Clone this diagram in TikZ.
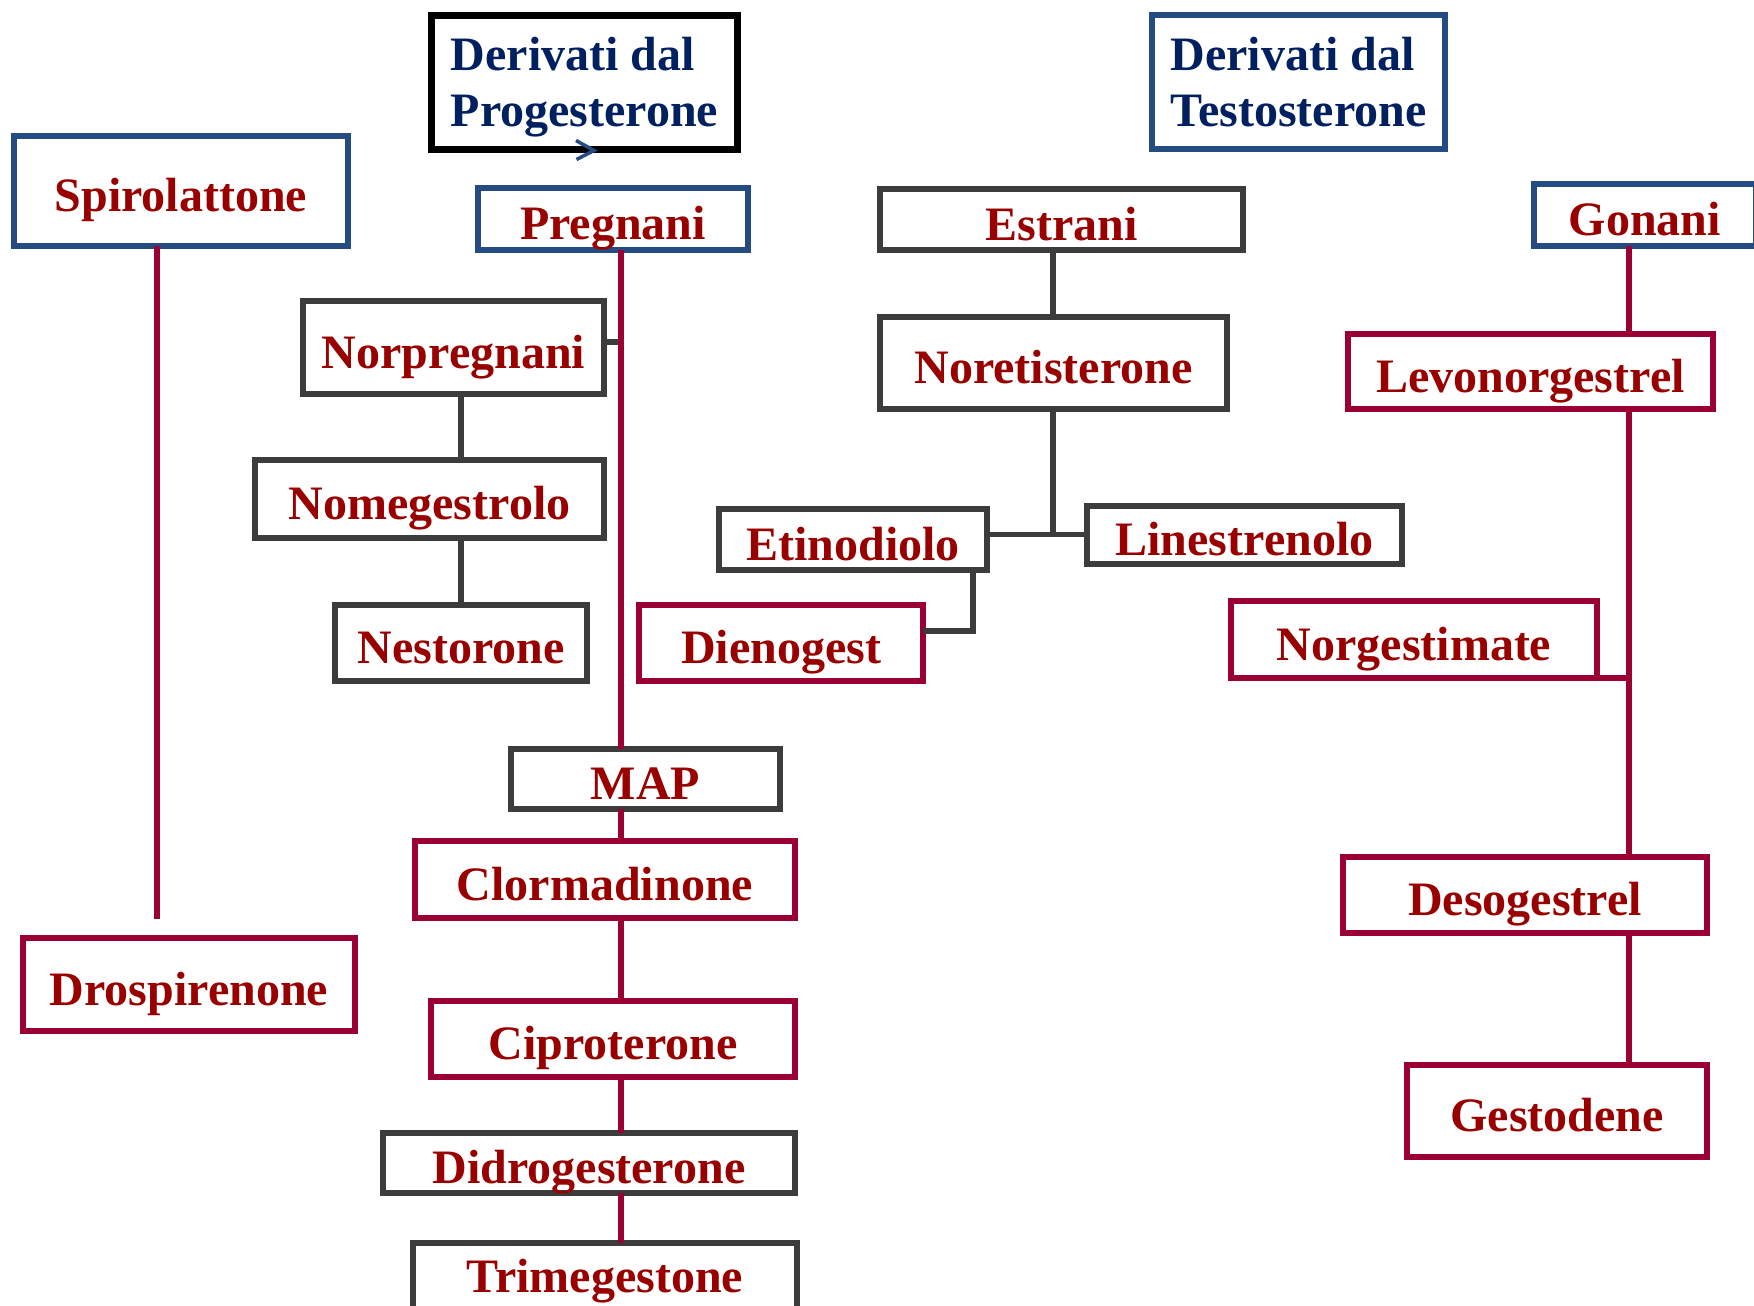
\documentclass[tikz,border=0pt]{standalone}
\usepackage{fontspec}
\setmainfont{Liberation Serif}
\definecolor{tred}{RGB}{153,0,0}
\definecolor{lcrim}{RGB}{155,0,52}
\definecolor{lgray}{RGB}{60,60,60}
\definecolor{lblue}{RGB}{36,76,130}
\definecolor{tnavy}{RGB}{0,32,96}
\newcommand\twolines[2]{\raisebox{-5pt}[\height][\depth]{\vbox{\hbox{#1}\hbox{#2\vphantom{g}}}}}
% box macro: style, name, x1, y1, x2, y2, text
\newcommand\bx[7]{\node[#1, minimum width={#5-#3}, minimum height={#6-#4}] (#2) at ({(#3+#5)/2},{(#4+#6)/2}) {#7};}
\begin{document}
\begin{tikzpicture}[x=1pt,y=-1pt,
  box/.style={rectangle, inner sep=0pt, outer sep=0pt, line width=6pt,
    font=\bfseries\fontsize{48}{56}\selectfont, text=tred, text height=45pt, text depth=4pt},
  redbox/.style={box, draw=lcrim},
  graybox/.style={box, draw=lgray},
  bluebox/.style={box, draw=lblue},
  titlebox/.style={rectangle, inner sep=0pt, outer sep=0pt, line width=6pt,
    font=\bfseries\fontsize{48}{56}\selectfont, text=tnavy},
  redline/.style={draw=lcrim, line width=5.5pt},
  grayline/.style={draw=lgray, line width=5.5pt}]
\useasboundingbox (0,0) rectangle (1754,1306);
\fill[white] (0,0) rectangle (1754,1306);

% titles
\bx{titlebox, draw=black, line width=7pt}{tprog}{431.5}{15.5}{737.5}{149.5}{\twolines{Derivati dal}{Progesterone}}
\bx{titlebox, draw=lblue}{ttest}{1152}{15.5}{1445}{149}{\twolines{Derivati dal}{Testosterone}}
\draw[lblue, line width=3.5pt] (576,140.5) -- (594,150.5) -- (576.5,159.5);

% boxes
\bx{bluebox}{spiro}{14}{136}{348}{246}{Spirolattone}
\bx{bluebox}{preg}{478}{188}{748}{250}{Pregnani}
\bx{graybox}{estr}{880}{189}{1243}{250}{Estrani}
\bx{bluebox}{gona}{1534}{184}{1755.7}{246}{Gonani}
\bx{graybox}{norp}{303}{301}{604}{394}{Norpregnani}
\bx{graybox}{noret}{880}{317}{1227}{409}{Noretisterone}
\bx{redbox}{levo}{1348}{334}{1713}{409}{Levonorgestrel}
\bx{graybox}{nomeg}{255}{460}{604}{538}{Nomegestrolo}
\bx{graybox}{etino}{719}{509}{987}{570}{Etinodiolo}
\bx{graybox}{lines}{1087}{506}{1402}{564}{Linestrenolo}
\bx{graybox}{nest}{335}{605}{587}{681}{Nestorone}
\bx{redbox}{dieno}{639}{605}{923}{681}{Dienogest}
\bx{redbox}{norg}{1231}{601}{1597}{678}{Norgestimate}
\bx{graybox}{map}{511}{749}{780}{809}{MAP}
\bx{redbox}{clorm}{415}{841}{795}{918}{Clormadinone}
\bx{redbox}{drosp}{23}{938}{355}{1031}{Drospirenone}
\bx{redbox}{deso}{1343}{857}{1707}{933}{Desogestrel}
\bx{redbox}{cipro}{431}{1001}{795}{1077}{Ciproterone}
\bx{redbox}{gest}{1407}{1065}{1707}{1157}{Gestodene}
\bx{graybox}{didro}{383}{1133}{795}{1193}{Didrogesterone}
\bx{graybox, text depth=34pt}{trime}{413}{1243}{797}{1330}{Trimegestone}

% helper coordinates
\coordinate (sx) at (157,919);
\coordinate (px) at (621,0);
\coordinate (nj) at (621,342);
\coordinate (nx) at (461,0);
\coordinate (ex) at (1053,0);
\coordinate (jn) at (1053,534.4);
\coordinate (ed) at (973,631);
\coordinate (gx) at (1629,0);

% Spirolattone
\draw[redline] (spiro.south -| sx) -- (sx);
% Pregnani branch
\draw[grayline] (nj -| norp.east) -- (nj);
\draw[redline] (preg.south -| px) -- (map.north -| px);
\draw[grayline] (norp.south -| nx) -- (nomeg.north -| nx);
\draw[grayline] (nomeg.south -| nx) -- (nest.north -| nx);
\draw[redline] (map.south -| px) -- (clorm.north -| px);
\draw[redline] (clorm.south -| px) -- (cipro.north -| px);
\draw[redline] (cipro.south -| px) -- (didro.north -| px);
\draw[redline] (didro.south -| px) -- (trime.north -| px);
% Estrani branch
\draw[grayline] (estr.south -| ex) -- (noret.north -| ex);
\draw[grayline] (noret.south -| ex) -- (jn);
\draw[grayline] (jn -| etino.east) -- (jn -| lines.west);
\draw[grayline] (etino.south -| ed) -- (ed) -- (ed -| dieno.east);
% Gonani branch
\draw[redline] (gona.south -| gx) -- (levo.north -| gx);
\draw[redline] (levo.south -| gx) -- (deso.north -| gx);
\draw[redline] (deso.south -| gx) -- (gest.north -| gx);
\draw[redline] (norg.south east) -- (norg.south east -| gx);
\end{tikzpicture}
\end{document}
